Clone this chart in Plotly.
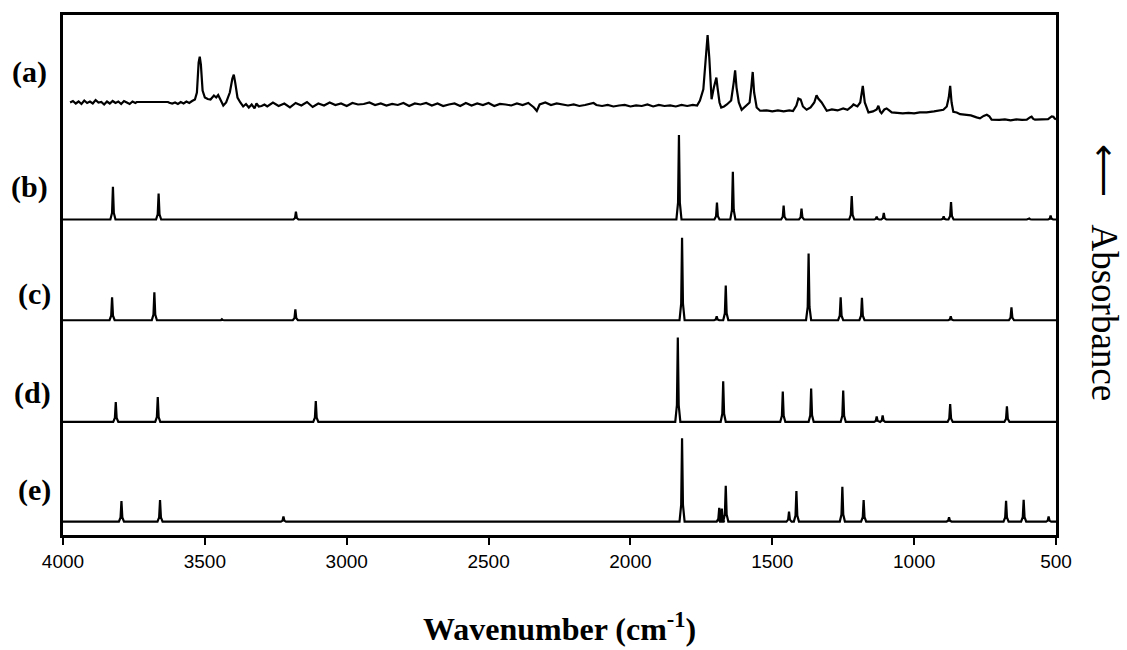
import plotly.graph_objects as go

# ---------------- data ----------------
# (a) experimental spectrum: wavenumber (cm-1) and absorbance (arb. units)
wn_a = [3975, 3965, 3955, 3945, 3935, 3925, 3915, 3905, 3895, 3885, 3875, 3865, 3855, 3845,
        3835, 3825, 3815, 3805, 3795, 3785, 3775, 3765, 3755, 3745, 3740, 3630, 3625, 3615,
        3605, 3595, 3585, 3575, 3565, 3555, 3545, 3535, 3528, 3522, 3518, 3514, 3508, 3500,
        3490, 3480, 3468, 3460, 3453, 3445, 3435, 3425, 3412, 3403, 3398, 3393, 3385, 3375,
        3365, 3355, 3345, 3335, 3325, 3318, 3310, 3300, 3290, 3280, 3260, 3240, 3220, 3200,
        3180, 3160, 3140, 3120, 3100, 3080, 3060, 3040, 3020, 3000, 2980, 2960, 2940, 2920,
        2900, 2880, 2860, 2840, 2820, 2800, 2780, 2760, 2740, 2720, 2700, 2680, 2660, 2640,
        2620, 2600, 2580, 2560, 2540, 2520, 2500, 2480, 2460, 2440, 2420, 2400, 2380, 2360,
        2340, 2330, 2320, 2300, 2280, 2260, 2240, 2220, 2200, 2180, 2160, 2140, 2130, 2120,
        2100, 2080, 2060, 2040, 2020, 2000, 1980, 1960, 1940, 1920, 1900, 1880, 1860, 1840,
        1820, 1800, 1780, 1765, 1755, 1743, 1735, 1728, 1722, 1716, 1714, 1706, 1700, 1697,
        1693, 1686, 1680, 1670, 1660, 1645, 1636, 1631, 1626, 1618, 1608, 1595, 1580, 1574,
        1569, 1564, 1555, 1543, 1520, 1500, 1480, 1460, 1440, 1427, 1415, 1408, 1400, 1392,
        1379, 1365, 1352, 1344, 1338, 1326, 1318, 1308, 1290, 1270, 1250, 1235, 1220, 1214,
        1200, 1190, 1181, 1174, 1161, 1145, 1132, 1126, 1120, 1115, 1105, 1097, 1088, 1079,
        1060, 1040, 1020, 1000, 980, 956, 930, 910, 897, 885, 878, 873, 868, 862,
        850, 838, 820, 800, 780, 768, 755, 744, 735, 727, 700, 680, 660, 640,
        620, 603, 592, 586, 580, 574, 550, 528, 515, 509, 505, 500]
abs_a = [0.350, 0.365, 0.340, 0.360, 0.335, 0.370, 0.345, 0.360, 0.340, 0.375, 0.350, 0.355, 0.330, 0.360,
         0.340, 0.365, 0.345, 0.360, 0.335, 0.365, 0.350, 0.335, 0.360, 0.345, 0.355, 0.355, 0.347, 0.340,
         0.350, 0.335, 0.355, 0.340, 0.360, 0.345, 0.365, 0.380, 0.450, 0.750, 0.810, 0.730, 0.470, 0.400,
         0.385, 0.380, 0.420, 0.400, 0.425, 0.380, 0.320, 0.350, 0.450, 0.590, 0.630, 0.550, 0.400, 0.350,
         0.310, 0.335, 0.300, 0.330, 0.290, 0.340, 0.310, 0.315, 0.330, 0.310, 0.350, 0.315, 0.340, 0.300,
         0.345, 0.320, 0.355, 0.305, 0.340, 0.320, 0.350, 0.325, 0.340, 0.315, 0.345, 0.330, 0.335, 0.350,
         0.325, 0.340, 0.320, 0.335, 0.325, 0.345, 0.315, 0.340, 0.330, 0.345, 0.320, 0.340, 0.315, 0.330,
         0.340, 0.315, 0.345, 0.320, 0.340, 0.325, 0.345, 0.315, 0.335, 0.330, 0.320, 0.340, 0.325, 0.345,
         0.300, 0.265, 0.330, 0.350, 0.325, 0.340, 0.330, 0.320, 0.330, 0.315, 0.325, 0.340, 0.345, 0.325,
         0.315, 0.325, 0.310, 0.320, 0.325, 0.310, 0.320, 0.315, 0.330, 0.310, 0.325, 0.315, 0.320, 0.310,
         0.325, 0.315, 0.325, 0.320, 0.370, 0.483, 0.750, 1.027, 0.800, 0.450, 0.383, 0.500, 0.570, 0.600,
         0.500, 0.350, 0.300, 0.310, 0.330, 0.370, 0.550, 0.673, 0.500, 0.350, 0.277, 0.310, 0.350, 0.500,
         0.657, 0.450, 0.300, 0.267, 0.270, 0.260, 0.270, 0.260, 0.270, 0.263, 0.320, 0.390, 0.380, 0.310,
         0.277, 0.300, 0.350, 0.423, 0.390, 0.350, 0.310, 0.267, 0.280, 0.270, 0.290, 0.277, 0.310, 0.330,
         0.310, 0.350, 0.517, 0.350, 0.250, 0.260, 0.280, 0.317, 0.260, 0.243, 0.280, 0.290, 0.270, 0.250,
         0.245, 0.240, 0.245, 0.240, 0.250, 0.250, 0.260, 0.270, 0.277, 0.310, 0.400, 0.517, 0.350, 0.257,
         0.250, 0.233, 0.225, 0.220, 0.200, 0.190, 0.215, 0.227, 0.210, 0.177, 0.175, 0.180, 0.170, 0.180,
         0.175, 0.177, 0.200, 0.207, 0.185, 0.177, 0.180, 0.183, 0.210, 0.207, 0.190, 0.180]

# (b)-(e) calculated spectra: band positions (cm-1) and intensities (arb. units)
peaks_b_wn = [3824, 3663, 3179, 1829, 1695, 1639, 1460, 1397, 1220, 1132, 1107, 896, 870, 594, 519]
peaks_b_h = [0.33, 0.26, 0.08, 0.85, 0.17, 0.48, 0.14, 0.11, 0.236, 0.03, 0.066, 0.033, 0.176, 0.01, 0.04]

peaks_c_wn = [3827, 3678, 3440, 3181, 1818, 1696, 1664, 1372, 1259, 1184, 871, 657]
peaks_c_h = [0.23, 0.28, 0.01, 0.11, 0.83, 0.04, 0.35, 0.67, 0.23, 0.226, 0.04, 0.13]

peaks_d_wn = [3814, 3666, 3109, 1833, 1673, 1463, 1363, 1250, 1132, 1111, 873, 673]
peaks_d_h = [0.20, 0.25, 0.21, 0.85, 0.41, 0.306, 0.336, 0.316, 0.056, 0.066, 0.18, 0.156]

peaks_e_wn = [3794, 3658, 3223, 1818, 1687, 1678, 1664, 1441, 1415, 1253, 1178, 877, 676, 614, 526]
peaks_e_h = [0.206, 0.216, 0.05, 0.837, 0.137, 0.13, 0.36, 0.10, 0.307, 0.35, 0.217, 0.044, 0.21, 0.22, 0.05]

panel_labels = ["(a)", "(b)", "(c)", "(d)", "(e)"]
x_ticks = [4000, 3500, 3000, 2500, 2000, 1500, 1000, 500]

# ---------------- layout constants ----------------
OFFSETS = {"a": 4.0, "b": 3.173, "c": 2.16, "d": 1.137, "e": 0.135}
LABEL_Y = {"a": 4.66, "b": 3.50, "c": 2.42, "d": 1.43, "e": 0.45}
LABEL_X = {"a": -0.034, "b": -0.034, "c": -0.029, "d": -0.031, "e": -0.029}
HW = 9.0  # half base width of a calculated band (cm-1), drawing style
X_MAX, X_MIN = 4000, 500


def stick_spectrum(wns, hs, offset):
    xs, ys = [X_MAX], [offset]
    for c, h in sorted(zip(wns, hs), reverse=True):
        xs += [c + HW, c + HW * 0.35, c, c - HW * 0.35, c - HW]
        ys += [offset, offset + h * 0.2, offset + h, offset + h * 0.2, offset]
    xs.append(X_MIN)
    ys.append(offset)
    return xs, ys


fig = go.Figure()
line_style = dict(color="black", width=2.2)

fig.add_trace(go.Scatter(x=wn_a, y=[v + OFFSETS["a"] for v in abs_a], mode="lines",
                         line=line_style, showlegend=False, hoverinfo="skip"))
for key, wns, hs in [("b", peaks_b_wn, peaks_b_h), ("c", peaks_c_wn, peaks_c_h),
                     ("d", peaks_d_wn, peaks_d_h), ("e", peaks_e_wn, peaks_e_h)]:
    xs, ys = stick_spectrum(wns, hs, OFFSETS[key])
    fig.add_trace(go.Scatter(x=xs, y=ys, mode="lines", line=line_style,
                             showlegend=False, hoverinfo="skip"))

annotations = []
for lab, key in zip(panel_labels, ["a", "b", "c", "d", "e"]):
    annotations.append(dict(text="<b>" + lab + "</b>", xref="paper", yref="y",
                            x=LABEL_X[key], y=LABEL_Y[key], xanchor="center", yanchor="middle",
                            showarrow=False,
                            font=dict(family="Liberation Serif", size=30, color="black")))
annotations.append(dict(text="<b>Wavenumber (cm<sup>-1</sup>)</b>", xref="paper", yref="paper",
                        x=0.5, y=-0.177, xanchor="center", yanchor="middle", showarrow=False,
                        font=dict(family="Liberation Serif", size=32, color="black")))
annotations.append(dict(text="\u27f5\u00a0\u00a0\u00a0Absorbance", xref="paper", yref="paper",
                        x=1.049, y=0.505, xanchor="center", yanchor="middle", showarrow=False,
                        textangle=90,
                        font=dict(family="Liberation Serif", size=37, color="black")))

fig.update_layout(
    width=1127, height=650,
    margin=dict(l=63, r=71, t=12, b=115),
    paper_bgcolor="white", plot_bgcolor="white",
    annotations=annotations,
    xaxis=dict(range=[X_MAX, X_MIN], tickvals=x_ticks, ticktext=[str(t) for t in x_ticks],
               ticks="outside", ticklen=7, tickwidth=2, tickcolor="black",
               showline=True, linecolor="black", linewidth=2.5, mirror=True,
               showgrid=False, zeroline=False,
               tickfont=dict(family="Liberation Sans", size=19, color="black")),
    yaxis=dict(range=[0, 5.23], showticklabels=False, ticks="",
               showline=True, linecolor="black", linewidth=2.5, mirror=True,
               showgrid=False, zeroline=False),
)

fig.write_html("out.html", config={"displayModeBar": False},
               post_script="document.body.style.margin='0px';")
